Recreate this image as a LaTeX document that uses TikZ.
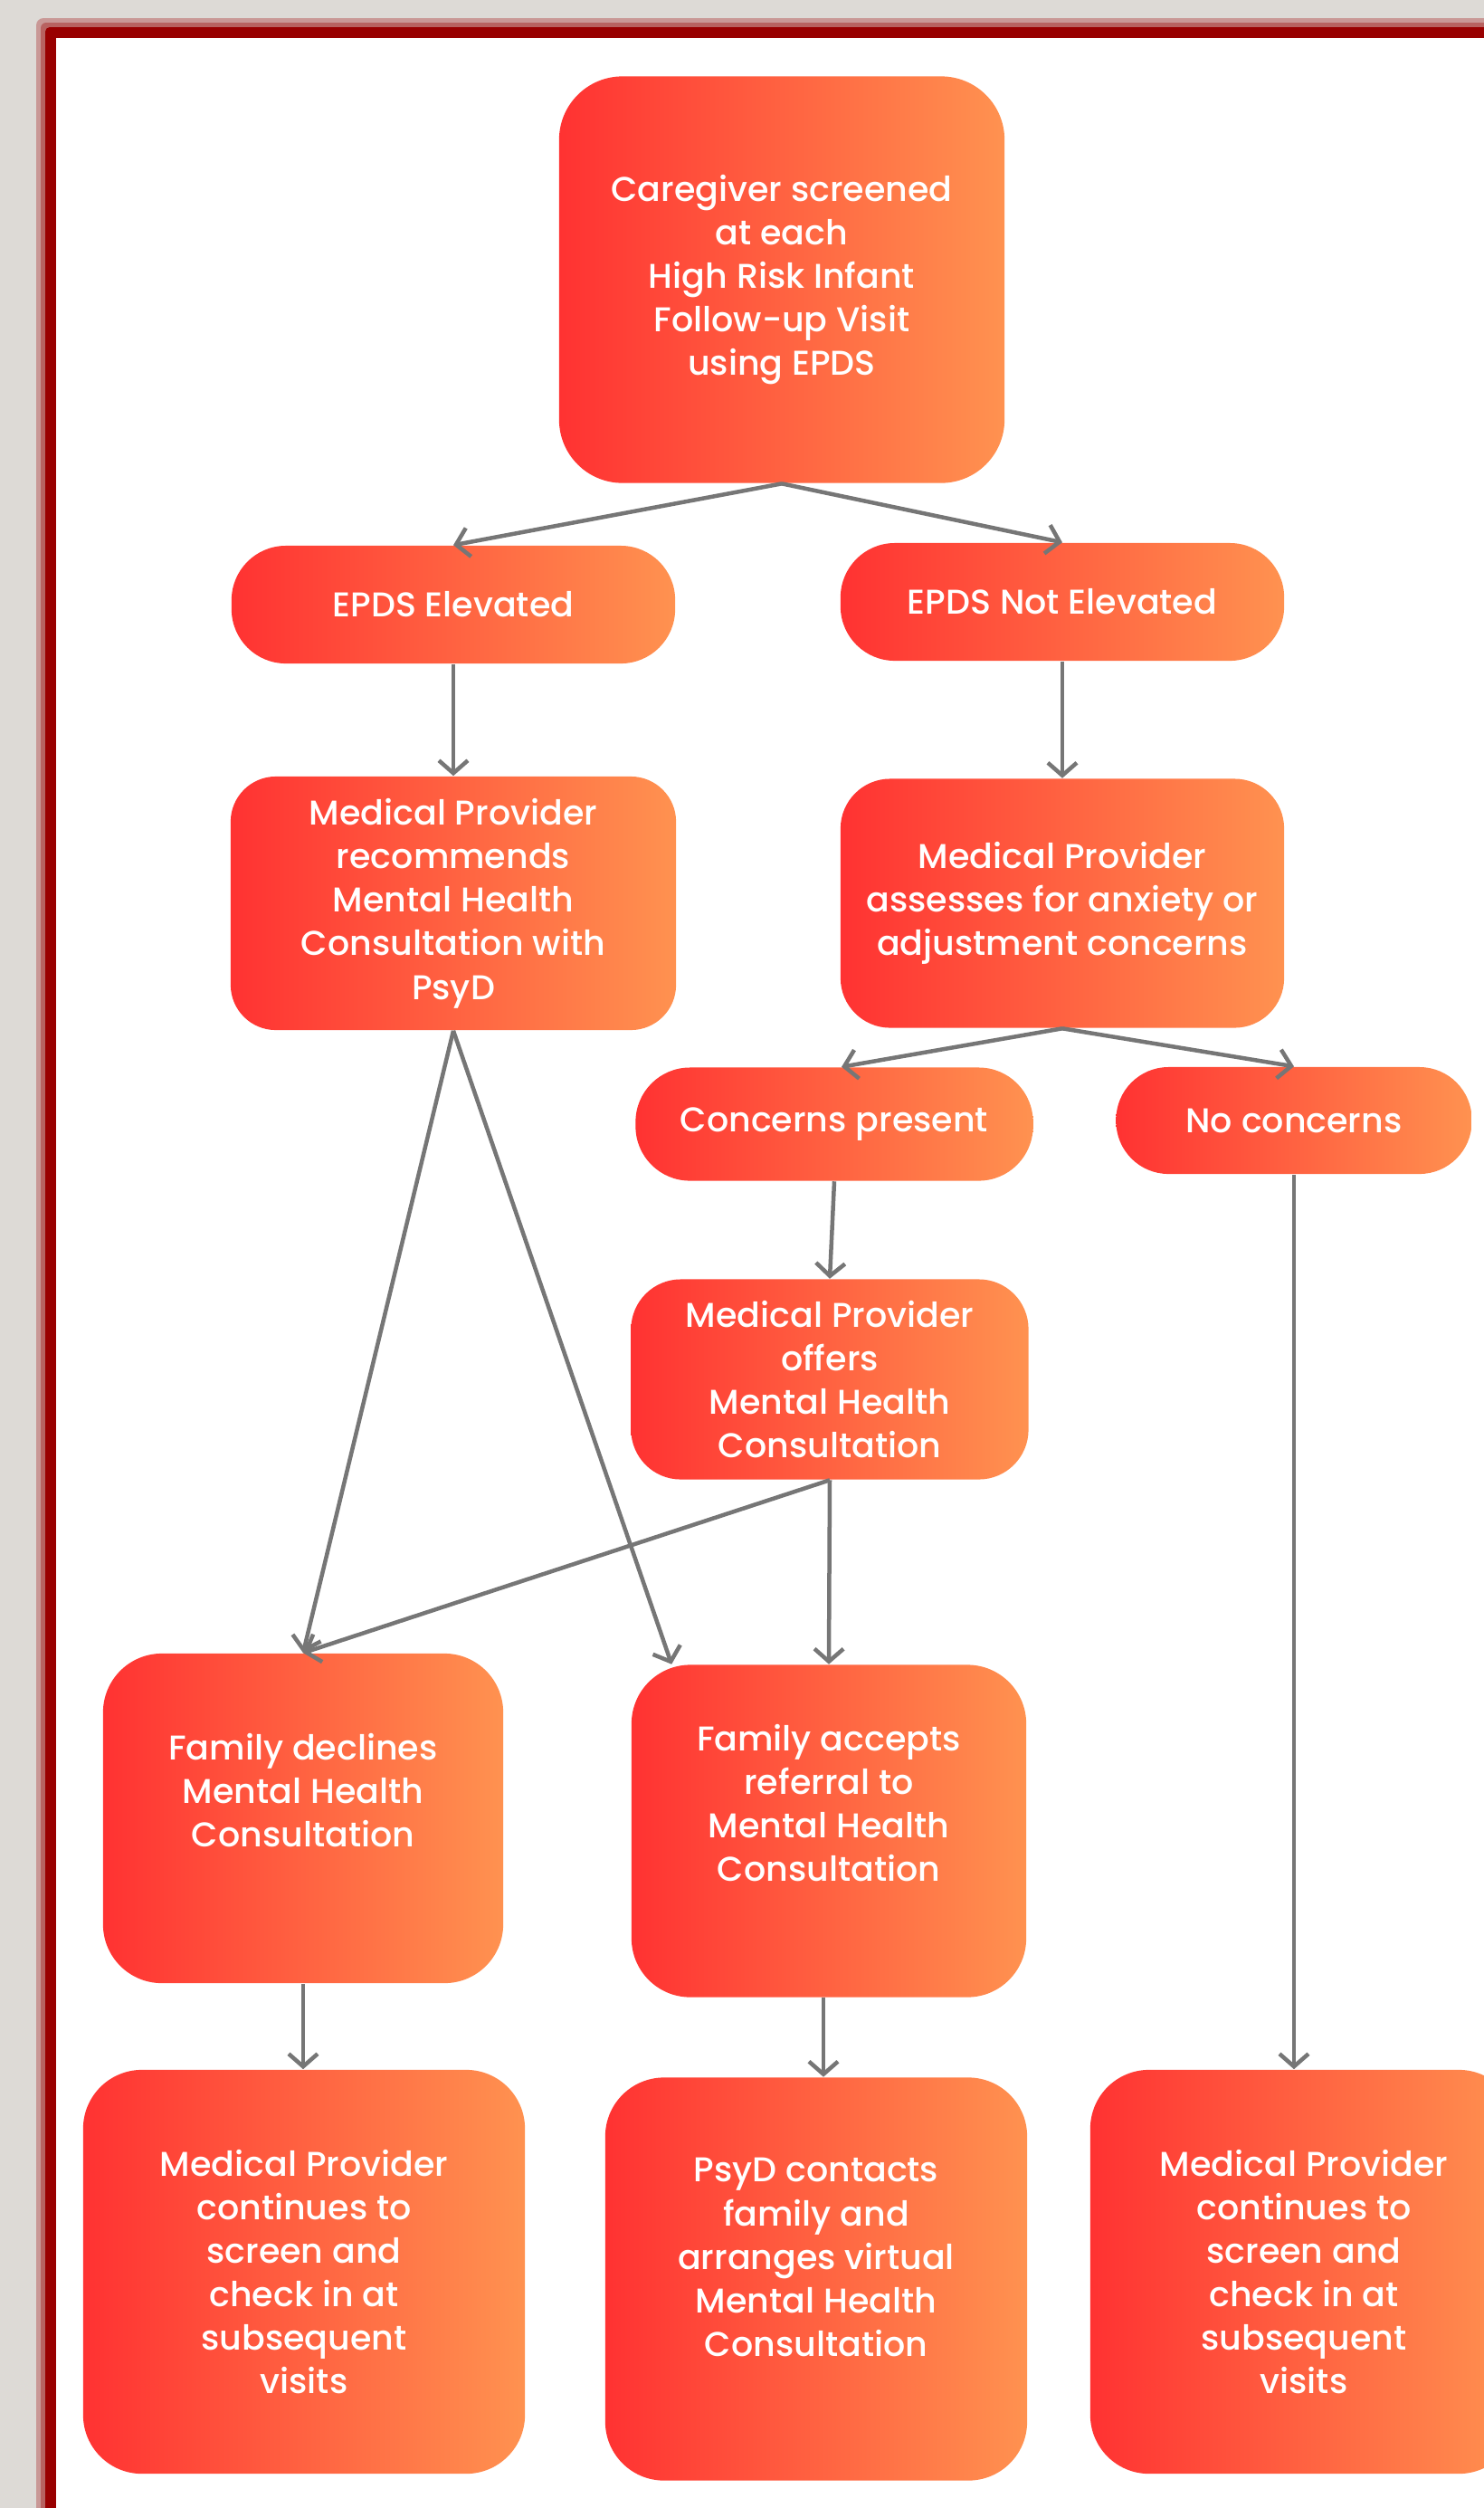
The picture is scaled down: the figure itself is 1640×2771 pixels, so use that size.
\documentclass[tikz,border=0pt]{standalone}
\usepackage{fontspec}
\IfFontExistsTF{Poppins Medium}{\setmainfont{Poppins Medium}}{\setmainfont{Poppins}}
\usepackage{xcolor}
\usepackage{tikz}
\usetikzlibrary{arrows.meta}
\definecolor{boxL}{RGB}{255,50,50}
\definecolor{boxR}{RGB}{255,146,80}
\definecolor{linegray}{RGB}{118,118,118}
\definecolor{framered}{RGB}{153,0,0}
\definecolor{pagegray}{RGB}{221,218,214}

\begin{document}
\begin{tikzpicture}[x=0.01cm, y=-0.01cm,
  flowbox/.style={rounded corners=0.6cm, left color=boxL, right color=boxR, text=white,
    align=center, inner sep=0pt, font=\fontsize{10.8pt}{13.7pt}\selectfont},
  flow/.style={draw=linegray, line width=0.045cm,
    -{Straight Barb[length=0.14cm, width=0.32cm]}}]
\useasboundingbox (0,0) rectangle (1640,2771);
\fill[pagegray] (0,0) rectangle (1640,2771);
\fill[framered!30!pagegray, rounded corners=0.08cm] (40,20) rectangle (1700,2850);
\fill[framered!55!pagegray, rounded corners=0.06cm] (45,25) rectangle (1700,2850);
\fill[framered, rounded corners=0.05cm] (50,30) rectangle (1700,2850);
\fill[white] (62,42) rectangle (1700,2850);

\node[flowbox, minimum width=4.92cm, minimum height=4.49cm, rounded corners=0.7cm] (screen) at (864,309)
  {Caregiver screened\\at each\\High Risk Infant\\Follow-up Visit\\using EPDS};
\node[flowbox, minimum width=4.9cm, minimum height=1.3cm] (elev) at (501,668) {EPDS Elevated};
\node[flowbox, minimum width=4.9cm, minimum height=1.3cm] (notelev) at (1174,665) {EPDS Not Elevated};
\node[flowbox, minimum width=4.92cm, minimum height=2.8cm, rounded corners=0.5cm] (recommend) at (501,998)
  {Medical Provider\\recommends\\Mental Health\\Consultation with\\PsyD};
\node[flowbox, minimum width=4.9cm, minimum height=2.75cm, rounded corners=0.55cm] (assess) at (1174,998)
  {Medical Provider\\assesses for anxiety or\\adjustment concerns};
\node[flowbox, minimum width=4.39cm, minimum height=1.25cm] (present) at (922,1242) {Concerns present};
\node[flowbox, minimum width=3.93cm, minimum height=1.18cm, rounded corners=0.58cm] (none) at (1430,1238) {No concerns};
\node[flowbox, minimum width=4.39cm, minimum height=2.21cm, rounded corners=0.55cm] (offer) at (917,1524)
  {Medical Provider\\offers\\Mental Health\\Consultation};
\node[flowbox, minimum width=4.42cm, minimum height=3.64cm, rounded corners=0.65cm, text depth=0.62cm] (decline) at (335,2009)
  {Family declines\\Mental Health\\Consultation};
\node[flowbox, minimum width=4.36cm, minimum height=3.67cm, rounded corners=0.65cm, text depth=0.62cm] (accept) at (916,2023)
  {Family accepts\\referral to\\Mental Health\\Consultation};
\node[flowbox, minimum width=4.88cm, minimum height=4.46cm, rounded corners=0.65cm] (continueL) at (336,2510)
  {Medical Provider\\continues to\\screen and\\check in at\\subsequent\\visits};
\node[flowbox, minimum width=4.66cm, minimum height=4.45cm, rounded corners=0.65cm, text depth=0.48cm] (contact) at (902,2518)
  {PsyD contacts\\family and\\arranges virtual\\Mental Health\\Consultation};
\node[flowbox, minimum width=4.72cm, minimum height=4.46cm, rounded corners=0.65cm] (continueR) at (1441,2510)
  {Medical Provider\\continues to\\screen and\\check in at\\subsequent\\visits};

\draw[flow] (screen.south) -- (elev.north);
\draw[flow] (screen.south) -- (notelev.north);
\draw[flow] (elev.south) -- (recommend.north);
\draw[flow] (notelev.south) -- (assess.north);
\draw[flow] (assess.south) -- ([xshift=0.08cm]present.north);
\draw[flow] (assess.south) -- (none.north);
\draw[flow] (present.south) -- (offer.north);
\draw[flow] (recommend.south) -- (decline.north);
\draw[flow] (recommend.south) -- ([xshift=0.45cm]accept.north west);
\draw[flow] (offer.south) -- (decline.north);
\draw[flow] (offer.south) -- (accept.north);
\draw[flow] (none.south) -- (none.south |- continueR.north);
\draw[flow] (decline.south) -- (decline.south |- continueL.north);
\draw[flow] ([xshift=-0.06cm]accept.south) -- ([xshift=-0.06cm]accept.south |- contact.north);
\end{tikzpicture}
\end{document}
